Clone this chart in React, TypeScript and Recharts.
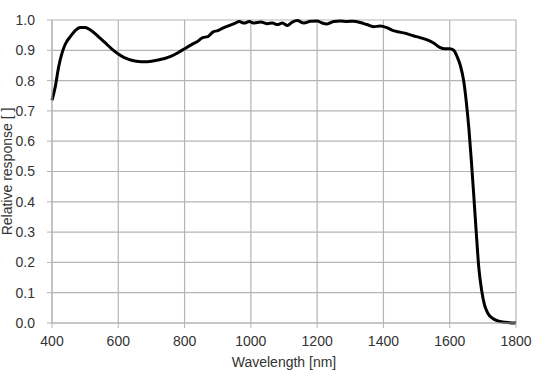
import { LineChart, Line, XAxis, YAxis, CartesianGrid, Label } from "recharts";

const wavelength = [
  400, 410, 420, 430, 440, 455, 470, 485, 500, 515, 530, 545, 560, 580, 600, 620, 640, 660, 680, 700,
  720, 740, 760, 780, 800, 820, 840, 855, 870, 885, 900, 915, 930, 950, 965, 980, 995, 1010, 1030,
  1050, 1065, 1080, 1095, 1110, 1125, 1140, 1160, 1180, 1200, 1215, 1230, 1250, 1270, 1290, 1310,
  1330, 1350, 1370, 1390, 1410, 1430, 1450, 1470, 1490, 1510, 1530, 1550, 1570, 1585, 1600, 1612,
  1622, 1632, 1642, 1650, 1658, 1665, 1672, 1680, 1688, 1696, 1705, 1715, 1730, 1745, 1760, 1780, 1800,
];

const response = [
  0.735, 0.78, 0.845, 0.89, 0.92, 0.945, 0.965, 0.975, 0.975, 0.968, 0.955, 0.94, 0.925, 0.905, 0.888,
  0.875, 0.867, 0.863, 0.862, 0.864, 0.868, 0.873, 0.881, 0.892, 0.905, 0.918, 0.93, 0.942, 0.945,
  0.96, 0.965, 0.973, 0.98, 0.988, 0.995, 0.99, 0.995, 0.99, 0.993, 0.988, 0.99, 0.985, 0.99, 0.982,
  0.993, 0.998, 0.99, 0.996, 0.997, 0.99, 0.987, 0.995, 0.997, 0.995, 0.996, 0.992, 0.985, 0.978,
  0.98, 0.975, 0.965, 0.96, 0.955, 0.948, 0.942, 0.935, 0.925, 0.91, 0.905, 0.905, 0.9, 0.88, 0.85,
  0.8, 0.73, 0.64, 0.54, 0.43, 0.3, 0.18, 0.11, 0.06, 0.032, 0.015, 0.007, 0.003, 0.001, 0.0,
];

const xTicks = [400, 600, 800, 1000, 1200, 1400, 1600, 1800];
const yTicks = [0, 0.1, 0.2, 0.3, 0.4, 0.5, 0.6, 0.7, 0.8, 0.9, 1.0];

const gridColor = "#b4b4b4";
const textColor = "#333333";
const font = "Liberation Sans, Arial, sans-serif";

export default function App() {
  const data = wavelength.map((w, i) => ({ w, r: response[i] }));

  return (
    <div style={{ position: "absolute", left: 0, top: 0, background: "#fff" }}>
      <LineChart
        width={547}
        height={381}
        data={data}
        margin={{ top: 20, right: 31, bottom: 28, left: 0 }}
      >
        <CartesianGrid stroke={gridColor} strokeWidth={1.2} />
        <XAxis
          dataKey="w"
          type="number"
          domain={[400, 1800]}
          ticks={xTicks}
          height={30}
          tickSize={5}
          tickMargin={8}
          stroke={gridColor}
          tick={{ fill: textColor, fontSize: 14, fontFamily: font }}
        >
          <Label
            value="Wavelength [nm]"
            position="bottom"
            offset={4}
            style={{ fill: textColor, fontSize: 14, fontFamily: font }}
          />
        </XAxis>
        <YAxis
          type="number"
          domain={[0, 1]}
          ticks={yTicks}
          width={52}
          tickSize={5}
          tickMargin={12}
          stroke={gridColor}
          tickFormatter={(v: number) => v.toFixed(1)}
          tick={{ fill: textColor, fontSize: 14, fontFamily: font }}
        >
          <Label
            content={({ viewBox }: any) => {
              const cy = viewBox.y + viewBox.height / 2;
              return (
                <text
                  x={12}
                  y={cy}
                  transform={`rotate(-90, 12, ${cy})`}
                  textAnchor="middle"
                  fill={textColor}
                  fontSize={14}
                  fontFamily={font}
                >
                  Relative response [ ]
                </text>
              );
            }}
          />
        </YAxis>
        <Line
          type="monotone"
          dataKey="r"
          stroke="#000"
          strokeWidth={3}
          dot={false}
          isAnimationActive={false}
        />
      </LineChart>
    </div>
  );
}
